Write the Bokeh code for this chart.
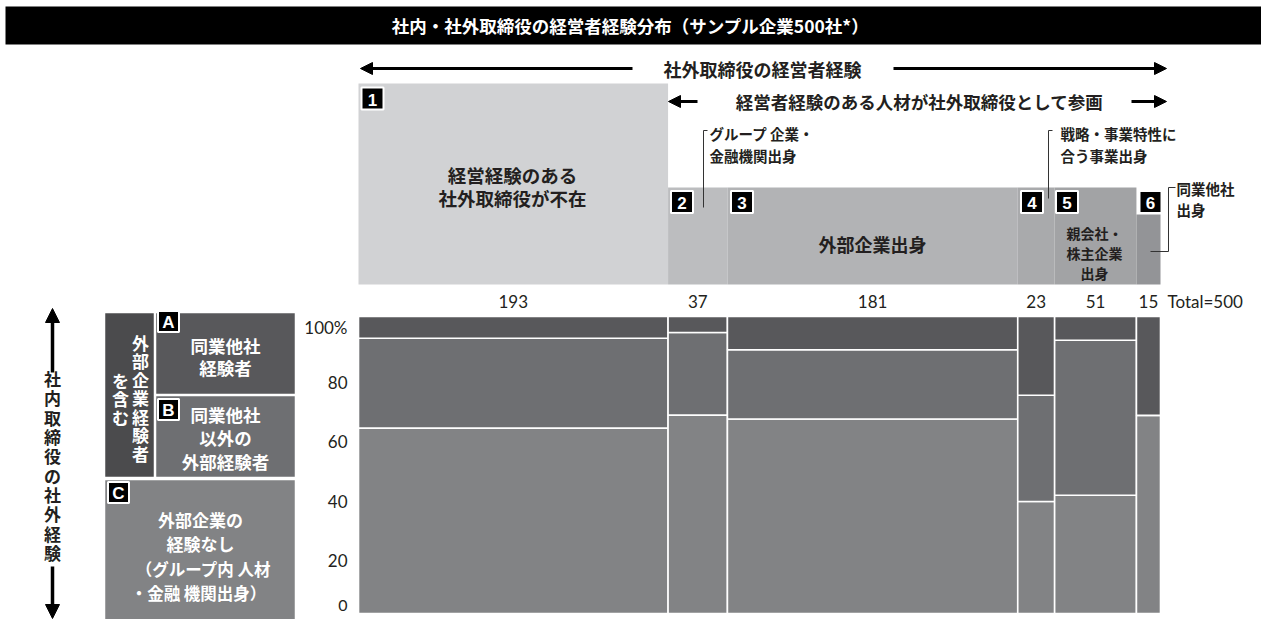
from bokeh.plotting import figure
from bokeh.models import Arrow, NormalHead, Range1d
from bokeh.embed import file_html
from bokeh.resources import INLINE
from bokeh.core.properties import value

# ---------------- data ----------------
categories = ["1", "2", "3", "4", "5", "6"]
counts = [193, 37, 181, 23, 51, 15]
share_A = [7.3, 5.4, 11.2, 26.5, 8.0, 33.3]     # 同業他社経験者
share_B = [30.3, 27.8, 23.3, 35.8, 52.2, 0.0]   # 同業他社以外の外部経験者
share_C = [62.4, 66.8, 65.5, 37.7, 39.8, 66.7]  # 外部企業の経験なし
y_ticks = [0, 20, 40, 60, 80, 100]
total = sum(counts)

# ---------------- geometry (pixel <-> data) ----------------
W, H = 1261, 619
X0PX, X1PX = 358.0, 1160.0          # pixel span of 0..total
KX = (X1PX - X0PX) / total
KY = 2.97                            # px per percent
Y0PX = 613.0                         # pixel row of 0%
XS = -X0PX / KX
XE = XS + W / KX
YS = -(H - Y0PX) / KY
YE = YS + H / KY


def X(px):
    return XS + px / KX


def Y(py):
    return YE - py / KY


JP = "Noto Sans CJK JP"
NUM = "Lato"

p = figure(width=W, height=H, x_range=Range1d(XS, XE), y_range=Range1d(YS, YE),
           output_backend="svg", toolbar_location=None, min_border=0,
           x_axis_location=None, y_axis_location=None, outline_line_color=None,
           background_fill_color="white", border_fill_color="white")
p.grid.visible = False
p.min_border_left = p.min_border_right = p.min_border_top = p.min_border_bottom = 0


def txt(px, py, s, size, color="#231f20", align="center", bold=True, font=JP, baseline="middle"):
    p.text(x=[X(px)], y=[Y(py)], text=[s], text_font=value(font),
           text_font_style="bold" if bold else "normal", text_font_size=f"{size}px",
           text_color=color, text_align=align, text_baseline=baseline)


def badge(px, py, s, size=22):
    p.rect(x=[X(px)], y=[Y(py)], width=size, height=size, width_units="screen",
           height_units="screen", fill_color="black", line_color="white", line_width=2)
    txt(px, py + 1, s, 17, color="white", font="Liberation Sans")


def vline_text(px, py_center, s, size, step, color):
    n = len(s)
    start = py_center - step * (n - 1) / 2
    for i, ch in enumerate(s):
        txt(px, start + i * step, ch, size, color=color)


# ---------------- mosaic ----------------
lefts, rights = [], []
acc = 0
for c in counts:
    lefts.append(acc)
    acc += c
    rights.append(acc)

colA, colB, colC = "#58585b", "#6e6f72", "#828385"
for l, r, a, b, c in zip(lefts, rights, share_A, share_B, share_C):
    p.quad(left=[l], right=[r], bottom=[0], top=[c], fill_color=colC,
           line_color="white", line_width=1.6)
    if b > 0:
        p.quad(left=[l], right=[r], bottom=[c], top=[c + b], fill_color=colB,
               line_color="white", line_width=1.6)
    p.quad(left=[l], right=[r], bottom=[c + b], top=[100], fill_color=colA,
           line_color="white", line_width=1.6)

# y tick labels (top-aligned to their tick; the 0 label kept inside the window)
for v in y_ticks:
    if v == 0:
        p.text(x=[X(347)], y=[Y(610)], text=["0"], text_font=value(NUM),
               text_font_size="16px", text_color="#231f20", text_align="right",
               text_baseline="bottom")
        continue
    p.text(x=[X(347)], y=[v], text=["100%" if v == 100 else str(v)], text_font=value(NUM),
           text_font_size="17px", text_color="#231f20", text_align="right",
           text_baseline="top")

# counts row
for l, r, c in zip(lefts, rights, counts):
    p.text(x=[(l + r) / 2], y=[Y(301)], text=[str(c)], text_font=value(NUM),
           text_font_size="17px", text_color="#231f20", text_align="center",
           text_baseline="middle")
p.text(x=[X(1167)], y=[Y(301)], text=[f"Total={total}"], text_font=value(NUM),
       text_font_size="17px", text_color="#231f20", text_align="left",
       text_baseline="middle")

# ---------------- top category boxes ----------------
box_colors = ["#d1d2d4", "#bcbdbf", "#b2b3b5", "#a9aaac", "#a2a3a5", "#939497"]
box_tops_px = [83, 187, 187, 187, 187, 214]
for l, r, col, tp in zip(lefts, rights, box_colors, box_tops_px):
    p.quad(left=[l], right=[r], bottom=[Y(284)], top=[Y(tp)], fill_color=col,
           line_color=None)

badge_pos_px = [(372, 98), (681.5, 201.5), (741.5, 201.5), (1031.5, 201.5),
                (1066.5, 201.5), (1150, 201.5)]
for (bx, by), cid in zip(badge_pos_px, categories):
    badge(bx, by, cid)

txt(512, 174, "経営経験のある", 18.5)
txt(512, 197, "社外取締役が不在", 18.5)
txt(872, 243, "外部企業出身", 18)
txt(1094, 232, "親会社・", 14)
txt(1094, 252, "株主企業", 14)
txt(1094, 272, "出身", 14)

# leader labels
lc = "#333333"
p.line([X(707), X(703), X(703)], [Y(130), Y(130), Y(207)], line_color=lc, line_width=1)
txt(709, 133, "グループ 企業・", 14.5, align="left")
txt(709, 155, "金融機関出身", 14.5, align="left")
p.line([X(1052), X(1048), X(1048)], [Y(130), Y(130), Y(198)], line_color=lc, line_width=1)
txt(1060, 133, "戦略・事業特性に", 14.5, align="left")
txt(1060, 155, "合う事業出身", 14.5, align="left")
p.line([X(1175), X(1168), X(1168), X(1150)], [Y(187), Y(187), Y(251), Y(251)],
       line_color=lc, line_width=1)
txt(1176, 188, "同業他社", 14.5, align="left")
txt(1176, 209, "出身", 14.5, align="left")

# ---------------- title bar ----------------
p.quad(left=[X(5)], right=[X(1261)], bottom=[Y(44)], top=[Y(6)], fill_color="black",
       line_color=None)
txt(630, 25, "社内・社外取締役の経営者経験分布（サンプル企業500社*）", 17.5, color="white")


# ---------------- arrows ----------------
def arrow(x1, y1, x2, y2, w=3, size=12):
    p.add_layout(Arrow(end=NormalHead(size=size, fill_color="black", line_color="black"),
                       x_start=X(x1), y_start=Y(y1), x_end=X(x2), y_end=Y(y2),
                       line_width=w, line_color="black"))


arrow(632, 68, 360, 68)
arrow(893, 68, 1166, 68)
txt(762, 68, "社外取締役の経営者経験", 18)
arrow(697, 101, 668, 101)
arrow(1131, 101, 1166, 101)
txt(919, 101, "経営者経験のある人材が社外取締役として参画", 17.5)

# ---------------- left legend ----------------
p.quad(left=[X(104)], right=[X(154)], bottom=[Y(477)], top=[Y(312)], fill_color="#4b4b4d",
       line_color="white", line_width=1.5)
p.quad(left=[X(155)], right=[X(295)], bottom=[Y(394)], top=[Y(312)], fill_color=colA,
       line_color="white", line_width=1.5)
p.quad(left=[X(155)], right=[X(295)], bottom=[Y(477)], top=[Y(395)], fill_color=colB,
       line_color="white", line_width=1.5)
p.quad(left=[X(104)], right=[X(295)], bottom=[Y(625)], top=[Y(479)], fill_color=colC,
       line_color="white", line_width=1.5)

vline_text(140, 397, "外部企業経験者", 17, 18.5, "white")
vline_text(120, 398, "を含む", 17, 18.5, "white")
badge(168, 321, "A", 21)
badge(168, 409, "B", 21)
badge(118, 492, "C", 21)
txt(225, 345, "同業他社", 17.5, color="white")
txt(225, 367, "経験者", 17.5, color="white")
txt(225, 414, "同業他社", 17.5, color="white")
txt(225, 437, "以外の", 17.5, color="white")
txt(225, 461, "外部経験者", 17.5, color="white")
txt(200, 519, "外部企業の", 17, color="white")
txt(200, 543, "経験なし", 17, color="white")
txt(203, 568, "（グループ内 人材", 16.5, color="white")
txt(198, 592, "・金融 機関出身）", 16.5, color="white")

vline_text(52, 465, "社内取締役の社外経験", 17, 19.3, "#231f20")
arrow(52, 372, 52, 308, w=3.5, size=14)
arrow(52, 566, 52, 618, w=3.5, size=14)

open("out.html", "w").write(file_html(p, INLINE))
